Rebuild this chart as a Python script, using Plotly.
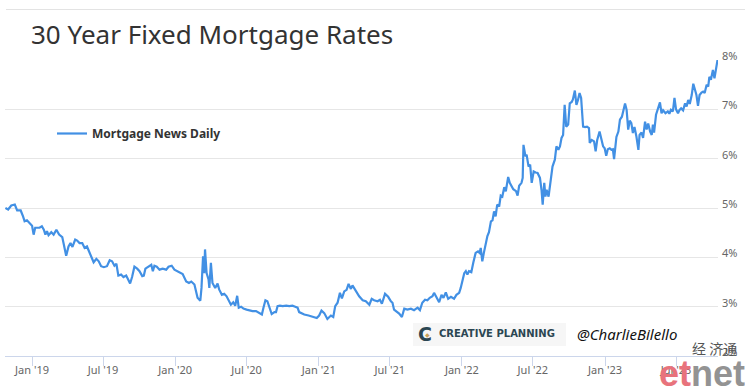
import plotly.graph_objects as go

title_text = "30 Year Fixed Mortgage Rates"
series_name = "Mortgage News Daily"

dates = [
    "2018-10-25", "2018-11-01", "2018-11-09", "2018-11-18", "2018-11-24", "2018-12-03", "2018-12-09", "2018-12-13",
    "2018-12-19", "2018-12-26", "2019-01-01", "2019-01-05", "2019-01-09", "2019-01-20", "2019-01-26", "2019-01-31",
    "2019-02-04", "2019-02-08", "2019-02-12", "2019-02-19", "2019-02-25", "2019-03-04", "2019-03-11", "2019-03-19",
    "2019-03-25", "2019-03-29", "2019-04-04", "2019-04-09", "2019-04-14", "2019-04-21", "2019-04-26", "2019-05-02",
    "2019-05-09", "2019-05-15", "2019-05-21", "2019-05-26", "2019-06-01", "2019-06-07", "2019-06-14", "2019-06-20",
    "2019-06-26", "2019-07-03", "2019-07-11", "2019-07-18", "2019-07-24", "2019-07-30", "2019-08-04", "2019-08-09",
    "2019-08-16", "2019-08-22", "2019-08-29", "2019-09-02", "2019-09-08", "2019-09-13", "2019-09-19", "2019-09-26",
    "2019-10-02", "2019-10-09", "2019-10-13", "2019-10-17", "2019-10-25", "2019-11-01", "2019-11-05", "2019-11-09",
    "2019-11-15", "2019-11-22", "2019-11-30", "2019-12-09", "2019-12-15", "2019-12-23", "2019-12-30", "2020-01-05",
    "2020-01-12", "2020-01-20", "2020-01-29", "2020-02-05", "2020-02-11", "2020-02-19", "2020-02-27", "2020-03-05",
    "2020-03-08", "2020-03-12", "2020-03-15", "2020-03-17", "2020-03-21", "2020-03-26", "2020-03-28", "2020-04-01",
    "2020-04-05", "2020-04-12", "2020-04-18", "2020-04-22", "2020-04-29", "2020-05-05", "2020-05-11", "2020-05-16",
    "2020-05-22", "2020-05-28", "2020-06-02", "2020-06-07", "2020-06-11", "2020-06-17", "2020-06-23", "2020-07-01",
    "2020-07-08", "2020-07-16", "2020-07-25", "2020-08-01", "2020-08-09", "2020-08-13", "2020-08-18", "2020-08-23",
    "2020-08-28", "2020-09-03", "2020-09-10", "2020-09-14", "2020-09-18", "2020-09-24", "2020-10-01", "2020-10-10",
    "2020-10-18", "2020-10-26", "2020-11-02", "2020-11-08", "2020-11-12", "2020-11-17", "2020-11-25", "2020-12-06",
    "2020-12-16", "2020-12-27", "2021-01-02", "2021-01-08", "2021-01-15", "2021-01-23", "2021-02-01", "2021-02-07",
    "2021-02-12", "2021-02-18", "2021-02-24", "2021-03-01", "2021-03-07", "2021-03-13", "2021-03-18", "2021-03-24",
    "2021-03-28", "2021-04-06", "2021-04-14", "2021-04-23", "2021-05-01", "2021-05-10", "2021-05-16", "2021-05-22",
    "2021-05-31", "2021-06-06", "2021-06-11", "2021-06-19", "2021-06-27", "2021-07-04", "2021-07-08", "2021-07-12",
    "2021-07-18", "2021-07-25", "2021-08-01", "2021-08-07", "2021-08-15", "2021-08-24", "2021-09-01", "2021-09-10",
    "2021-09-16", "2021-09-22", "2021-09-29", "2021-10-05", "2021-10-11", "2021-10-18", "2021-10-22", "2021-10-28",
    "2021-11-04", "2021-11-10", "2021-11-15", "2021-11-21", "2021-11-27", "2021-12-04", "2021-12-12", "2021-12-18",
    "2021-12-25", "2021-12-29", "2022-01-02", "2022-01-07", "2022-01-11", "2022-01-15", "2022-01-19", "2022-01-25",
    "2022-01-30", "2022-02-05", "2022-02-11", "2022-02-15", "2022-02-18", "2022-02-22", "2022-02-26", "2022-03-03",
    "2022-03-07", "2022-03-11", "2022-03-16", "2022-03-20", "2022-03-24", "2022-03-28", "2022-04-01", "2022-04-06",
    "2022-04-10", "2022-04-14", "2022-04-19", "2022-04-23", "2022-04-29", "2022-05-03", "2022-05-08", "2022-05-12",
    "2022-05-19", "2022-05-23", "2022-05-27", "2022-06-02", "2022-06-05", "2022-06-07", "2022-06-12", "2022-06-15",
    "2022-06-20", "2022-06-24", "2022-06-28", "2022-07-03", "2022-07-08", "2022-07-13", "2022-07-19", "2022-07-23",
    "2022-07-26", "2022-07-30", "2022-08-02", "2022-08-05", "2022-08-10", "2022-08-16", "2022-08-20", "2022-08-26",
    "2022-08-30", "2022-09-04", "2022-09-08", "2022-09-12", "2022-09-16", "2022-09-20", "2022-09-24", "2022-09-29",
    "2022-10-03", "2022-10-08", "2022-10-11", "2022-10-16", "2022-10-20", "2022-10-24", "2022-10-28", "2022-11-01",
    "2022-11-06", "2022-11-11", "2022-11-16", "2022-11-21", "2022-11-23", "2022-11-28", "2022-12-04", "2022-12-08",
    "2022-12-12", "2022-12-18", "2022-12-22", "2022-12-27", "2022-12-31", "2023-01-04", "2023-01-08", "2023-01-13",
    "2023-01-17", "2023-01-21", "2023-01-24", "2023-01-30", "2023-02-04", "2023-02-08", "2023-02-13", "2023-02-17",
    "2023-02-21", "2023-02-25", "2023-03-01", "2023-03-05", "2023-03-09", "2023-03-13", "2023-03-17", "2023-03-22",
    "2023-03-27", "2023-03-30", "2023-04-04", "2023-04-08", "2023-04-13", "2023-04-17", "2023-04-21", "2023-04-26",
    "2023-04-30", "2023-05-03", "2023-05-06", "2023-05-11", "2023-05-16", "2023-05-21", "2023-05-25", "2023-05-29",
    "2023-06-04", "2023-06-10", "2023-06-14", "2023-06-18", "2023-06-23", "2023-06-27", "2023-07-01", "2023-07-06",
    "2023-07-10", "2023-07-14", "2023-07-19", "2023-07-24", "2023-07-28", "2023-08-01", "2023-08-05", "2023-08-10",
    "2023-08-14", "2023-08-18", "2023-08-22", "2023-08-26", "2023-08-30", "2023-09-04", "2023-09-08", "2023-09-12",
    "2023-09-17", "2023-09-21", "2023-09-24", "2023-09-28", "2023-10-03", "2023-10-07", "2023-10-11", "2023-10-15",
]

rates = [
    5.00, 4.97, 5.05, 5.07, 4.95, 4.95, 4.83, 4.73,
    4.75, 4.68, 4.64, 4.46, 4.60, 4.60, 4.63, 4.56,
    4.46, 4.53, 4.45, 4.51, 4.46, 4.56, 4.46, 4.41,
    4.19, 4.03, 4.22, 4.29, 4.21, 4.36, 4.34, 4.29,
    4.29, 4.19, 4.22, 4.12, 4.02, 3.90, 3.97, 3.92,
    3.82, 3.80, 3.82, 3.94, 3.92, 3.83, 3.87, 3.63,
    3.65, 3.60, 3.63, 3.56, 3.47, 3.60, 3.81, 3.77,
    3.72, 3.62, 3.63, 3.77, 3.81, 3.85, 3.72, 3.83,
    3.81, 3.75, 3.77, 3.75, 3.81, 3.83, 3.75, 3.72,
    3.70, 3.66, 3.51, 3.48, 3.51, 3.45, 3.18, 3.12,
    3.38, 4.02, 3.68, 4.16, 3.68, 3.55, 3.38, 3.89,
    3.48, 3.38, 3.47, 3.35, 3.24, 3.26, 3.21, 3.14,
    3.04, 3.09, 3.02, 3.22, 2.98, 3.00, 2.96, 2.94,
    2.92, 2.91, 2.91, 2.87, 2.84, 2.98, 3.13, 3.11,
    2.98, 2.85, 2.89, 2.89, 3.01, 3.02, 3.01, 3.02,
    3.01, 3.02, 3.00, 2.98, 2.89, 2.87, 2.84, 2.82,
    2.79, 2.77, 2.82, 2.92, 2.87, 2.75, 2.82, 2.79,
    3.01, 3.08, 3.28, 3.17, 3.31, 3.34, 3.46, 3.36,
    3.43, 3.31, 3.21, 3.13, 3.11, 3.04, 3.16, 3.13,
    3.11, 3.14, 3.06, 3.26, 3.20, 3.11, 3.08, 2.94,
    2.91, 2.86, 2.79, 2.96, 2.94, 2.96, 2.93, 2.98,
    2.93, 3.08, 3.14, 3.13, 3.18, 3.21, 3.28, 3.18,
    3.09, 3.24, 3.18, 3.29, 3.16, 3.20, 3.16, 3.24,
    3.28, 3.38, 3.55, 3.68, 3.72, 3.65, 3.72, 3.70,
    3.89, 4.09, 4.12, 4.09, 4.19, 3.92, 4.09, 4.29,
    4.43, 4.51, 4.73, 4.75, 4.93, 4.83, 5.07, 5.03,
    5.25, 5.23, 5.42, 5.34, 5.63, 5.51, 5.44, 5.38,
    5.34, 5.25, 5.45, 5.51, 5.61, 6.28, 6.05, 6.08,
    5.84, 5.88, 5.51, 5.74, 5.72, 5.71, 5.61, 5.37,
    5.07, 5.51, 5.23, 5.37, 5.23, 5.57, 5.84, 5.98,
    6.25, 6.18, 6.25, 6.42, 6.48, 7.09, 6.65, 6.69,
    7.12, 7.15, 7.20, 7.38, 7.09, 7.19, 7.33, 7.23,
    6.65, 6.64, 6.65, 6.62, 6.32, 6.38, 6.35, 6.15,
    6.38, 6.55, 6.42, 6.25, 6.21, 6.06, 6.19, 6.21,
    6.18, 6.19, 5.99, 6.44, 6.55, 6.79, 6.85, 6.96,
    7.12, 6.99, 6.59, 6.77, 6.72, 6.52, 6.64, 6.45,
    6.18, 6.48, 6.53, 6.42, 6.75, 6.59, 6.71, 6.55,
    6.48, 6.69, 6.53, 6.89, 7.02, 7.14, 6.92, 6.98,
    6.92, 6.96, 6.91, 6.99, 6.96, 7.23, 7.00, 6.92,
    6.99, 7.02, 6.98, 7.12, 7.06, 7.19, 7.11, 7.29,
    7.52, 7.39, 7.29, 7.07, 7.29, 7.34, 7.36, 7.33,
    7.50, 7.46, 7.66, 7.60, 7.80, 7.63, 7.83, 8.01,
]

y_ticks = [2, 3, 4, 5, 6, 7, 8]
y_tick_labels = ["2%", "3%", "4%", "5%", "6%", "7%", "8%"]
x_range = ["2018-10-24", "2023-10-16"]

W, H = 745, 386
L, R, T, B = 5, 27, 60, 30
PW, PH = W - L - R, H - T - B


def px(x):
    return (x - L) / PW


def py(y):
    return (H - B - y) / PH


fig = go.Figure()
fig.add_trace(go.Scatter(
    x=dates, y=rates, mode="lines", name=series_name,
    line=dict(color="#4290e4", width=2.2),
))
# invisible companion on the label axis so that axis is drawn
fig.add_trace(go.Scatter(
    x=dates[:1], y=rates[:1], xaxis="x2", yaxis="y", mode="lines",
    showlegend=False, hoverinfo="skip", line=dict(width=0, color="rgba(0,0,0,0)"),
))

fig.update_layout(
    width=W, height=H,
    margin=dict(l=L, r=R, t=T, b=B, autoexpand=False),
    paper_bgcolor="white", plot_bgcolor="white",
    title=dict(
        text=title_text, xref="container", yref="container",
        x=31 / W, xanchor="left", y=1 - 35 / H, yanchor="middle",
        font=dict(family="Noto Sans", size=26, color="#333333"),
    ),
    showlegend=True,
    legend=dict(
        xref="paper", yref="paper",
        x=px(52), xanchor="left", y=py(133.5), yanchor="middle",
        font=dict(family="Noto Sans", size=12, color="#333333", weight="bold"),
        bgcolor="rgba(0,0,0,0)",
    ),
    xaxis=dict(
        type="date", automargin=False,
        range=x_range,
        tick0="2019-01-01", dtick="M6",
        showticklabels=False,
        showgrid=False, zeroline=False,
        showline=True, linecolor="#ccd6eb", linewidth=1,
        ticks="outside", ticklen=9, tickcolor="#ccd6eb", tickwidth=1,
    ),
    xaxis2=dict(
        type="date", automargin=False, overlaying="x", anchor="y", side="bottom",
        range=x_range,
        tick0="2019-01-01", dtick="M6", tickformat="%b '%y",
        showgrid=False, zeroline=False, showline=False,
        ticks="", ticklen=0,
        tickfont=dict(family="Noto Sans", size=11, color="#666666"),
        ticklabelstandoff=6,
    ),
    yaxis=dict(
        side="right", range=[2, 8], automargin=False,
        tickvals=y_ticks, ticktext=y_tick_labels,
        showgrid=True, gridcolor="#e6e6e6", gridwidth=1,
        zeroline=False, showline=False, ticks="", ticklen=0,
        tickfont=dict(family="Noto Sans", size=11, color="#666666"),
        ticklabelstandoff=3,
        ticklabelshift=-4,
    ),
)

shapes = [
    dict(type="line", xref="paper", yref="paper",
         x0=px(6), x1=px(745), y0=py(9.5), y1=py(9.5),
         line=dict(color="#e3e3e3", width=1)),
    dict(type="rect", xref="paper", yref="paper", layer="above",
         x0=px(413), x1=px(566), y0=py(346), y1=py(323),
         fillcolor="#f6f6f6", line=dict(width=0)),
]
fig.update_layout(shapes=shapes)

annotations = [
    dict(text="C", x=px(424.5), y=py(334), xref="paper", yref="paper",
         xanchor="center", yanchor="middle", showarrow=False,
         font=dict(family="DejaVu Sans", size=19, color="#2b4652", weight="bold")),
    dict(text="◆", x=px(427), y=py(334), xref="paper", yref="paper",
         xanchor="center", yanchor="middle", showarrow=False,
         font=dict(family="DejaVu Sans", size=6, color="#c9a35c")),
    dict(text="CREATIVE PLANNING", x=px(437), y=py(333.5), xref="paper", yref="paper",
         xanchor="left", yanchor="middle", showarrow=False,
         font=dict(family="DejaVu Sans", size=10, color="#2b4652", weight="bold")),
    dict(text="@CharlieBilello", x=px(575), y=py(334), xref="paper", yref="paper",
         xanchor="left", yanchor="middle", showarrow=False,
         font=dict(family="Noto Sans", size=15, color="#111111", style="italic")),
    dict(text="经 济通", x=px(714), y=py(348), xref="paper", yref="paper",
         xanchor="center", yanchor="middle", showarrow=False,
         font=dict(family="Noto Sans CJK SC", size=14, color="#555555")),
    dict(text="<span style='color:#e8737c'>et</span><span style='color:#939393'>net</span>",
         x=px(747), y=py(373), xref="paper", yref="paper",
         xanchor="right", yanchor="middle", showarrow=False,
         font=dict(family="Liberation Sans Narrow, Arial Narrow, Liberation Sans", size=36, weight="bold")),
]
fig.update_layout(annotations=annotations)

fig.write_html(
    "out.html",
    config={"displayModeBar": False},
    post_script="document.body.style.margin='0';document.body.style.overflow='hidden';",
)
